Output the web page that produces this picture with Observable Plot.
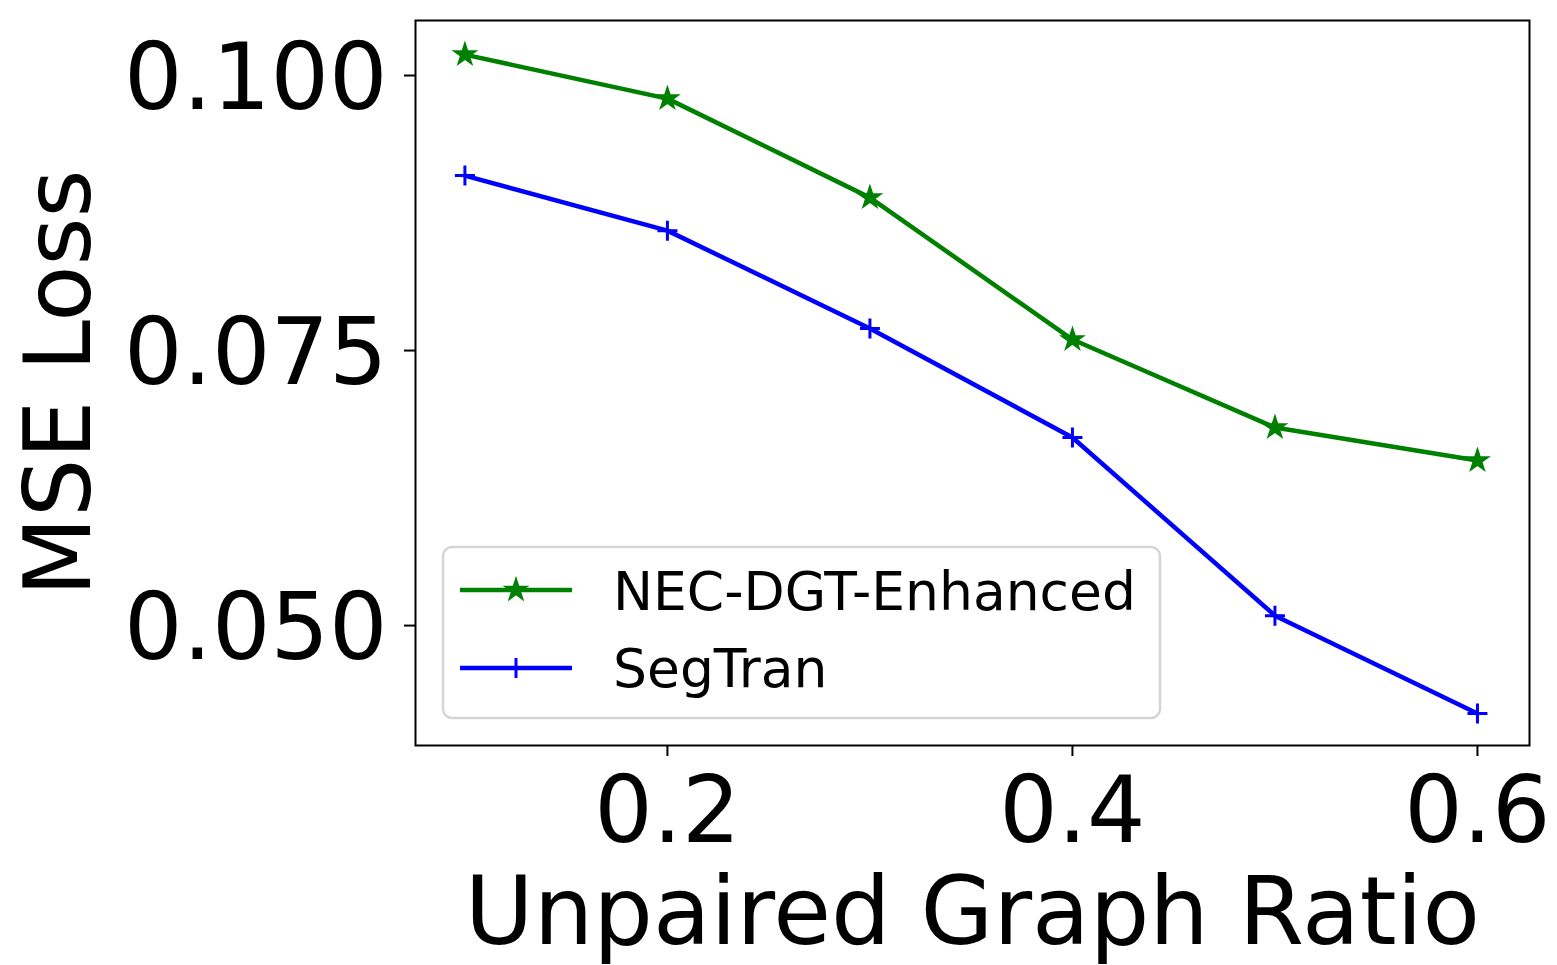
<!DOCTYPE html>
<html>
<head>
<meta charset="utf-8">
<script src="https://cdn.jsdelivr.net/npm/d3@7"></script>
<script src="https://cdn.jsdelivr.net/npm/@observablehq/plot@0.6"></script>
<style>
  html, body { margin: 0; padding: 0; background: white; }
  #chart svg { display: block; }
</style>
</head>
<body>
<div id="chart"></div>
<script>
const ratios = [0.1, 0.2, 0.3, 0.4, 0.5, 0.6];
const necDgtEnhanced = [0.1019, 0.0979, 0.0889, 0.0760, 0.0680, 0.0650];
const segTran = [0.0909, 0.0859, 0.0770, 0.0671, 0.0509, 0.0420];
const seriesNames = ["NEC-DGT-Enhanced", "SegTran"];
const seriesColors = ["green", "blue"];
const xTicks = [0.2, 0.4, 0.6];
const yTicks = [0.050, 0.075, 0.100];
const xLabel = "Unpaired Graph Ratio";
const yLabel = "MSE Loss";

const necData = ratios.map((r, i) => ({x: r, y: necDgtEnhanced[i]}));
const segData = ratios.map((r, i) => ({x: r, y: segTran[i]}));

// thin matplotlib-like "+" marker
const thinPlus = {
  draw(context, size) {
    const r = Math.sqrt(size / Math.PI);
    context.moveTo(-r, 0); context.lineTo(r, 0);
    context.moveTo(0, -r); context.lineTo(0, r);
  }
};

const font = "DejaVu Sans, Liberation Sans, sans-serif";

const chart = Plot.plot({
  width: 1557,
  height: 965,
  marginLeft: 415,
  marginRight: 28,
  marginTop: 20,
  marginBottom: 220,
  style: {fontFamily: font, background: "white", color: "black"},
  x: {domain: [0.0756, 0.6257]},
  y: {domain: [0.0391, 0.105]},
  marks: [
    // y tick marks
    Plot.axisY({ticks: yTicks, tickFormat: () => "", tickSize: 11, strokeWidth: 2, label: null}),
    // y tick labels (nudged down slightly like matplotlib)
    Plot.axisY({ticks: yTicks, tickFormat: d3.format(".3f"), tickSize: 0, tickPadding: 28, fontSize: 92, label: null, dy: 4}),
    Plot.axisX({ticks: xTicks, tickFormat: d3.format(".1f"), tickSize: 11, tickPadding: 20, fontSize: 92, strokeWidth: 2, label: null}),
    Plot.line(necData, {x: "x", y: "y", stroke: seriesColors[0], strokeWidth: 4.5}),
    Plot.dot(necData, {x: "x", y: "y", symbol: "star", fill: seriesColors[0], stroke: seriesColors[0], strokeWidth: 1.5, r: 7}),
    Plot.line(segData, {x: "x", y: "y", stroke: seriesColors[1], strokeWidth: 4.5}),
    Plot.dot(segData, {x: "x", y: "y", symbol: thinPlus, fill: "none", stroke: seriesColors[1], strokeWidth: 3, r: 10}),
    Plot.frame({stroke: "black", strokeWidth: 2}),
    Plot.text([xLabel], {frameAnchor: "bottom", dy: 168, fontSize: 94, lineAnchor: "middle", textAnchor: "middle", fill: "black"}),
    Plot.text([yLabel], {frameAnchor: "left", dx: -355, rotate: -90, fontSize: 92, lineAnchor: "middle", textAnchor: "middle", fill: "black"})
  ]
});

document.getElementById("chart").appendChild(chart);

// Legend (inside plot, lower left)
const svg = d3.select(chart);
const lg = svg.append("g").attr("font-family", font).attr("text-anchor", "start");
lg.append("rect")
  .attr("x", 443).attr("y", 547).attr("width", 717).attr("height", 171)
  .attr("rx", 9).attr("ry", 9)
  .attr("fill", "white").attr("fill-opacity", 0.8)
  .attr("stroke", "#d5d5d5").attr("stroke-width", 2.5);
const rows = [
  {name: seriesNames[0], color: seriesColors[0], cy: 590, base: 610, sym: "star"},
  {name: seriesNames[1], color: seriesColors[1], cy: 668, base: 687, sym: "plus"}
];
rows.forEach(r => {
  lg.append("line").attr("x1", 460).attr("x2", 572).attr("y1", r.cy).attr("y2", r.cy)
    .attr("stroke", r.color).attr("stroke-width", 4.5);
  if (r.sym === "star") {
    lg.append("path").attr("transform", `translate(516,${r.cy})`)
      .attr("d", d3.symbol(d3.symbolStar, Math.PI * 7 * 7)())
      .attr("fill", r.color).attr("stroke", r.color).attr("stroke-width", 1.5);
  } else {
    lg.append("path").attr("transform", `translate(516,${r.cy})`)
      .attr("d", "M-10,0L10,0M0,-10L0,10")
      .attr("fill", "none").attr("stroke", r.color).attr("stroke-width", 3);
  }
  lg.append("text").attr("x", 613).attr("y", r.base)
    .attr("text-anchor", "start")
    .attr("font-size", 53.5).attr("fill", "black").text(r.name);
});
</script>
</body>
</html>
